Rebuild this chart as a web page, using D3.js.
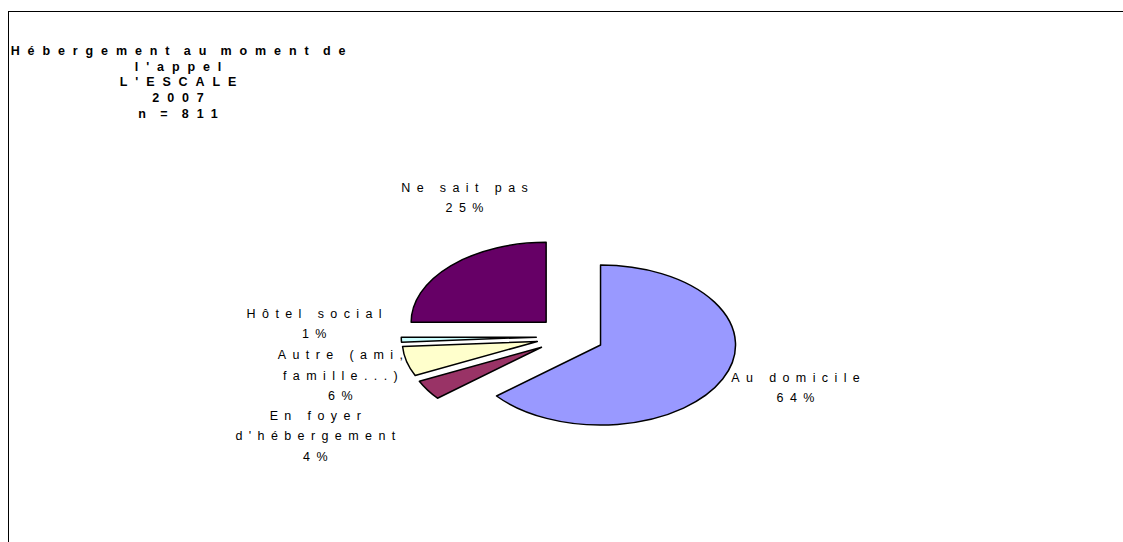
<!DOCTYPE html>
<html>
<head>
<meta charset="utf-8">
<script src="https://cdn.jsdelivr.net/npm/d3@7"></script>
<style>
  body { margin: 0; background: #fff; }
  svg text { font-family: "Liberation Sans", Arial, sans-serif; fill: #000; }
</style>
</head>
<body>
<svg id="chart" width="1123" height="542"></svg>
<script>
'use strict';

// data
var titleLines = ["Hébergement au moment de", "l'appel", "L'ESCALE", "2007", "n = 811"];
var categories = ["Au domicile", "En foyer\nd'hébergement", "Autre (ami,\nfamille...)", "Hôtel social", "Ne sait pas"];
var percents = [64, 4, 6, 1, 25];
var colors = ["#9999FF", "#993366", "#FFFFCC", "#CCFFFF", "#660066"];

// layout
var width = 1123, height = 542;
var cx = 570, cy = 336.5, rx = 135, ry = 80;
var explode = 0.25 * ry;
var k = rx / ry;
// label nudges from the outer edge of each slice (first line baseline)
var labelShift = [[76, 3], [-109, 30], [-63, -2], [-84, -21.5], [17, -74]];

var svg = d3.select("#chart");

svg.append("rect")
    .attr("x", 8.5).attr("y", 11.5)
    .attr("width", width + 10).attr("height", height + 10)
    .attr("fill", "none").attr("stroke", "#000").attr("stroke-width", 1);

var title = svg.append("text")
    .attr("text-anchor", "middle")
    .style("font-size", "12.5px")
    .style("font-weight", "bold")
    .style("letter-spacing", "7.9px")
    .style("word-spacing", "-5px");

title.selectAll("tspan").data(titleLines).enter()
    .append("tspan")
    .attr("x", 182)
    .attr("y", function (d, i) { return 55 + 15.7 * i; })
    .text(function (d) { return d; });

var pie = d3.pie().sort(null).value(function (d) { return d; });
var arcs = pie(percents);
var arc = d3.arc().innerRadius(0).outerRadius(ry);

function apex(d) {
    var m = (d.startAngle + d.endAngle) / 2;
    return [cx + k * explode * Math.sin(m), cy - explode * Math.cos(m)];
}

svg.selectAll(".slice").data(arcs).enter()
    .append("path")
    .attr("class", "slice")
    .attr("transform", function (d) {
        var p = apex(d);
        return "translate(" + p[0] + "," + p[1] + ") scale(" + k + ",1)";
    })
    .attr("d", arc)
    .attr("fill", function (d, i) { return colors[i]; })
    .attr("stroke", "#000")
    .attr("stroke-width", 1.5)
    .attr("stroke-linejoin", "round")
    .attr("vector-effect", "non-scaling-stroke");

var labels = svg.selectAll(".label").data(arcs).enter()
    .append("text")
    .attr("class", "label")
    .attr("text-anchor", "middle")
    .style("font-size", "12.5px")
    .style("letter-spacing", "6.4px");

labels.each(function (d, i) {
    var p = apex(d);
    var m = (d.startAngle + d.endAngle) / 2;
    var x = p[0] + rx * Math.sin(m) + labelShift[i][0];
    var y = p[1] - ry * Math.cos(m) + labelShift[i][1];
    var lines = categories[i].split("\n").concat([percents[i] + "%"]);
    d3.select(this).selectAll("tspan").data(lines).enter()
        .append("tspan")
        .attr("x", x)
        .attr("y", function (t, j) { return y + 20.3 * j; })
        .text(function (t) { return t; });
});
</script>
</body>
</html>
